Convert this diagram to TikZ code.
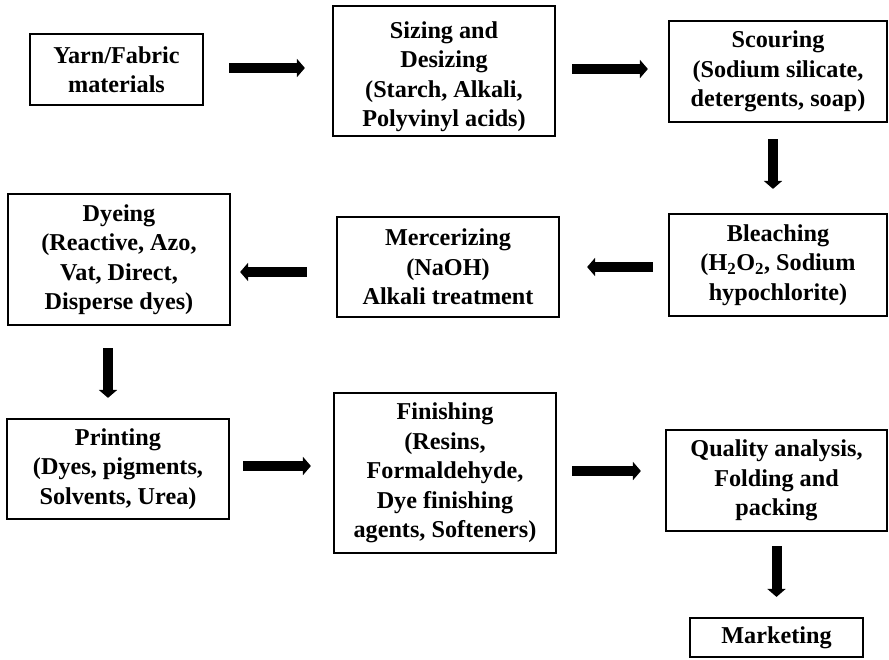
\documentclass[tikz,border=0pt]{standalone}
\usepackage{fontspec}
\setmainfont{Liberation Serif}
\usepackage{tikz}
\usetikzlibrary{arrows.meta}

\begin{document}
\begin{tikzpicture}[x=1pt,y=-1pt,
    stage/.style={draw, line width=2.2pt, align=center, inner sep=0pt,
      font=\fontsize{24.2pt}{29.5pt}\selectfont\bfseries},
    flow/.style={line width=10pt, -{Triangle[length=8pt,width=18pt]}}]
  \useasboundingbox (0,0) rectangle (889,659);
  % top row
  \node[stage, minimum width=173pt, minimum height=71pt] (yarn) at (116.5,69.5)
    {Yarn/Fabric\\materials};
  \node[stage, minimum width=222pt, minimum height=130pt] (sizing) at (444,71)
    {\rule{0pt}{28pt}Sizing and\\Desizing\\(Starch, Alkali,\\Polyvinyl acids)};
  \node[stage, minimum width=218pt, minimum height=101pt] (scouring) at (778,71.5)
    {Scouring\\(Sodium silicate,\\detergents, soap)};
  % middle row
  \node[stage, minimum width=218pt, minimum height=102pt] (bleaching) at (778,265)
    {Bleaching\\(H\textsubscript{2}O\textsubscript{2}, Sodium\\hypochlorite)};
  \node[stage, minimum width=222pt, minimum height=100pt] (mercer) at (448,267)
    {Mercerizing\\(NaOH)\\Alkali treatment};
  \node[stage, minimum width=222pt, minimum height=131pt] (dyeing) at (119,259.5)
    {Dyeing\\(Reactive, Azo,\\Vat, Direct,\\Disperse dyes)};
  % bottom row
  \node[stage, minimum width=222pt, minimum height=100pt] (printing) at (118,469)
    {Printing\\(Dyes, pigments,\\Solvents, Urea)};
  \node[stage, minimum width=222pt, minimum height=160pt] (finishing) at (445,473)
    {Finishing\\(Resins,\\Formaldehyde,\\Dye finishing\\agents, Softeners)};
  \node[stage, minimum width=221pt, minimum height=101pt] (quality) at (776.5,480.5)
    {Quality analysis,\\Folding and\\packing};
  \node[stage, minimum width=173pt, minimum height=39pt] (marketing) at (776.5,637.5)
    {Marketing};
  % arrows
  \draw[flow, shorten <=25pt, shorten >=27pt] ([yshift=1.5pt]yarn.east) -- ([yshift=1.5pt]yarn.east -| sizing.west);
  \draw[flow, shorten <=16pt, shorten >=20pt] ([yshift=2pt]sizing.east) -- ([yshift=2pt]sizing.east -| scouring.west);
  \draw[flow, shorten <=16pt, shorten >=24pt] ([xshift=-5pt]scouring.south) -- ([xshift=-5pt]scouring.south |- bleaching.north);
  \draw[flow, shorten <=15pt, shorten >=27pt] ([yshift=-2pt]bleaching.west) -- ([yshift=-2pt]bleaching.west -| mercer.east);
  \draw[flow, shorten <=29pt, shorten >=9pt] ([yshift=-5pt]mercer.west) -- ([yshift=-5pt]mercer.west -| dyeing.east);
  \draw[flow, shorten <=22pt, shorten >=20pt] ([xshift=-11pt]dyeing.south) -- ([xshift=-11pt]dyeing.south |- printing.north);
  \draw[flow, shorten <=13pt, shorten >=22pt] ([yshift=3pt]printing.east) -- ([yshift=3pt]printing.east -| finishing.west);
  \draw[flow, shorten <=15pt, shorten >=24pt] ([yshift=2pt]finishing.east) -- ([yshift=2pt]finishing.east -| quality.west);
  \draw[flow, shorten <=14pt, shorten >=20pt] (quality.south) -- (marketing.north);
\end{tikzpicture}
\end{document}
